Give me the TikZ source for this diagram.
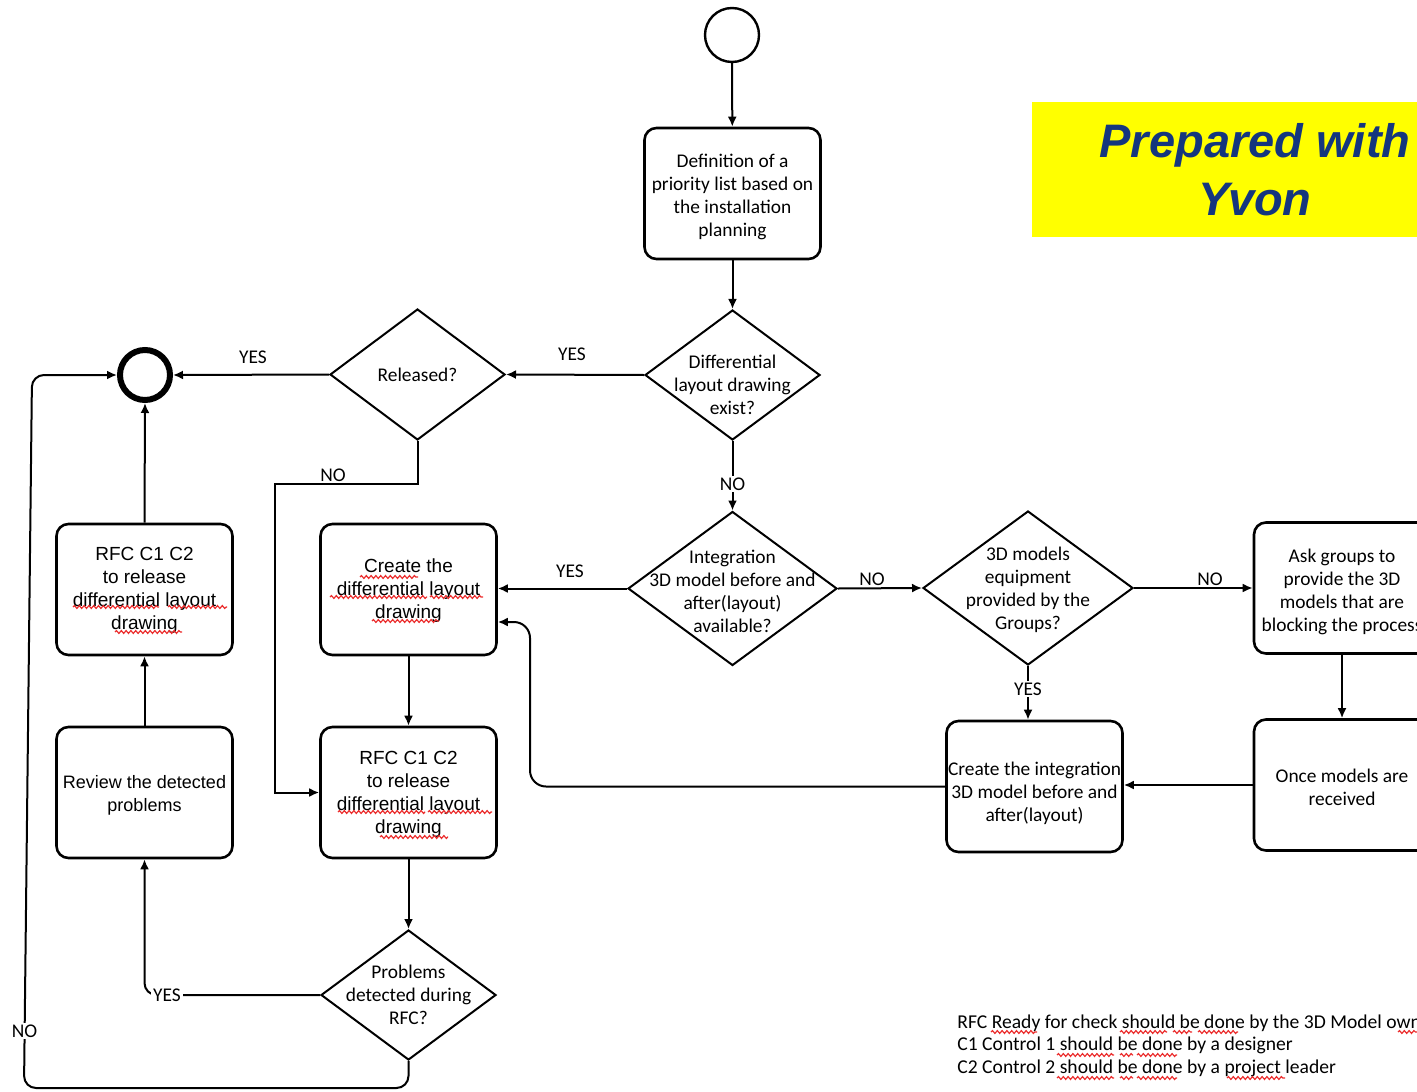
\documentclass[tikz,border=0pt]{standalone}
\usepackage{fontspec}
\setmainfont{Carlito}
\newfontfamily\arialf{Liberation Sans}
\usetikzlibrary{shapes.geometric,arrows.meta,decorations.pathmorphing}
\definecolor{titleblue}{RGB}{20,54,126}
\definecolor{banyellow}{RGB}{255,255,0}
\definecolor{spellred}{RGB}{235,45,45}
\tikzset{
  box/.style={draw, line width=1.3pt, rounded corners=6pt, minimum width=88pt, minimum height=65.5pt, inner sep=0pt},
  btxt/.style={align=center, inner sep=0pt, font=\fontsize{9.7}{11.5}\selectfont},
  atxt/.style={align=center, inner sep=0pt, font=\arialf\fontsize{9.5}{11.4}\selectfont},
  dec/.style={draw, diamond, line width=1pt, inner sep=0pt},
  arr/.style={line width=1pt, -{Latex[length=5pt,width=4.5pt]}},
  lbl/.style={font=\fontsize{9.7}{11}\selectfont, inner sep=1pt},
  wlbl/.style={lbl, fill=white},
  spell/.style={draw=spellred, line width=0.6pt, decorate, decoration={snake, amplitude=0.7pt, segment length=2.4pt}}
}
\begin{document}
\begin{tikzpicture}[x=0.5pt,y=-0.5pt]
\useasboundingbox (0,0) rectangle (1417,1091);
\clip (0,0) rectangle (1417,1091);

% banner
\node[fill=banyellow, minimum width=223pt, minimum height=67.5pt, align=center, inner sep=0pt,
      text=titleblue, font=\arialf\bfseries\itshape\fontsize{23.5}{29}\selectfont] (banner) at (1255,169.5) {Prepared with\\Yvon};

% start / end
\node[circle, draw, line width=1.2pt, minimum size=27pt, inner sep=0pt] (start) at (732,35) {};
\node[circle, draw, line width=3pt, minimum size=25pt, inner sep=0pt] (end) at (145,375) {};

% boxes
\node[box, label={[btxt, yshift=-1.5pt]center:Definition of a\\priority list based on\\the installation\\planning}] (def) at (732.5,193.5) {};
\node[box, label={[atxt, yshift=-0.5pt]center:RFC C1 C2\\to release\\differential layout\\drawing}] (rfc1) at (144.5,589.5) {};
\node[box, label={[atxt, yshift=-0.5pt]center:Create the\\differential layout\\drawing}] (create) at (408.5,589.5) {};
\node[box, label={[atxt, font=\arialf\fontsize{9}{11.5}\selectfont, yshift=-1.5pt]center:Review the detected\\problems}] (review) at (144.5,792.5) {};
\node[box, label={[atxt, yshift=-1pt]center:RFC C1 C2\\to release\\differential layout\\drawing}] (rfc2) at (408.5,792.5) {};
\node[box, label={[btxt, yshift=-3.5pt]center:Create the integration\\3D model before and\\after(layout)}] (integbox) at (1034.5,786.5) {};
\node[box, label={[btxt, yshift=-1.75pt]center:Ask groups to\\provide the 3D\\models that are\\blocking the process}] (ask) at (1342,588) {};
\node[box, label={[btxt, yshift=-1pt]center:Once models are\\received}] (once) at (1342,785) {};

% decisions
\node[dec, minimum width=87.5pt, minimum height=65pt,
      label={[btxt, yshift=-5pt]center:Differential\\layout drawing\\exist?}] (diff) at (732.5,375) {};
\node[dec, minimum width=87.5pt, minimum height=65.5pt,
      label={[btxt]center:Released?}] (released) at (417.5,374.5) {};
\node[dec, minimum width=104.5pt, minimum height=77pt,
      label={[btxt, yshift=-1.5pt]center:Integration\\3D model before and\\after(layout)\\available?}] (integ) at (732.5,588.5) {};
\node[dec, minimum width=105pt, minimum height=77pt,
      label={[btxt, yshift=-1pt]center:3D models\\equipment\\provided by the\\Groups?}] (models) at (1028,588) {};
\node[dec, minimum width=87.5pt, minimum height=65pt,
      label={[btxt]center:Problems\\detected during\\RFC?}] (problems) at (408.5,995) {};

% connectors
\draw[arr] (start) -- (def);
\draw[arr] (def) -- (diff);
\draw[arr] (diff.west) -- (released.east);
\node[lbl] at (572,354) {YES};
\draw[arr] (released.west) -- (end.east);
\node[lbl] at (253,357) {YES};
\draw[arr] (released.south) |- (275,484) |- (rfc2.west);
\node[lbl] at (333,475) {NO};
\draw[arr] (diff.south) -- (integ.north);
\node[wlbl] at (732.5,484) {NO};
\draw[arr] (integ.west) -- (create.east |- integ.west);
\node[lbl] at (570,571) {YES};
\draw[arr] (integ.east) -- (models.west);
\node[lbl] at (872,579) {NO};
\draw[arr] (models.east) -- (ask.west |- models.east);
\node[lbl] at (1210,579) {NO};
\draw[arr] (models.south) -- (integbox.north -| models.south);
\node[wlbl] at (1028,689) {YES};
\draw[arr] (ask.south) -- (once.north);
\draw[arr] (once.west) -- (integbox.east |- once.west);
\coordinate (loopc) at (530,622);
\draw[arr, rounded corners=8pt] (integbox.west) -| (loopc) -- (create.east |- loopc);
\draw[arr] (create.south) -- (rfc2.north);
\draw[arr] (rfc2.south) -- (problems.north);
\draw[arr, rounded corners=6pt] (problems.west) -| (review.south);
\node[wlbl] at (167,995) {YES};
\draw[arr] (review.north) -- (rfc1.south);
\draw[arr] (rfc1.north) -- (end.south);
\coordinate (bl) at (24,1088);
\coordinate (tl) at (32,375);
\draw[arr, rounded corners=6pt] (problems.south) -- (problems.south |- bl) -- (bl) -- (tl) -- (end.west);
\node[wlbl] at (24.5,1031) {NO};

% note
\node[anchor=north west, align=left, inner sep=0pt, font=\fontsize{9.8}{11.25}\selectfont] (note) at (957,1014)
  {RFC Ready for check should be done by the 3D Model owner\\C1 Control 1 should be done by a designer\\C2 Control 2 should be done by a project leader};

% spell-check marks
\draw[spell] (73,607) -- (159,607);
\draw[spell] (168,607) -- (227,607);
\draw[spell] (115,632) -- (182,632);
\draw[spell] (360,577) -- (418,577);
\draw[spell] (330,597) -- (427,597);
\draw[spell] (430,597) -- (483,597);
\draw[spell] (372,621) -- (439,621);
\draw[spell] (338,812) -- (425,812);
\draw[spell] (428,812) -- (492,812);
\draw[spell] (380,837) -- (448,837);
\draw[spell] (991,1032) -- (1037,1032);
\draw[spell] (1120,1032) -- (1167,1032);
\draw[spell] (1173,1032) -- (1192,1032);
\draw[spell] (1198,1032) -- (1238,1032);
\draw[spell] (1398,1032) -- (1417,1032);
\draw[spell] (1057,1055) -- (1114,1055);
\draw[spell] (1120,1055) -- (1133,1055);
\draw[spell] (1137,1055) -- (1177,1055);
\draw[spell] (1057,1078) -- (1114,1078);
\draw[spell] (1120,1078) -- (1133,1078);
\draw[spell] (1137,1078) -- (1177,1078);
\draw[spell] (1227,1078) -- (1285,1078);
\end{tikzpicture}
\end{document}
